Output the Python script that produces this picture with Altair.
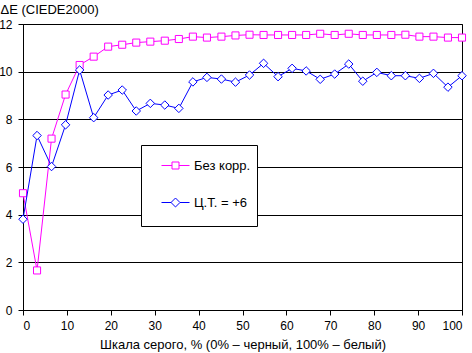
import altair as alt
import pandas as pd

gray_pct = [0, 3.2, 6.5, 9.7, 12.9, 16.1, 19.4, 22.6, 25.8, 29.0, 32.3, 35.5, 38.7, 41.9,
            45.2, 48.4, 51.6, 54.8, 58.1, 61.3, 64.5, 67.7, 71.0, 74.2, 77.4, 80.6, 83.9,
            87.1, 90.3, 93.5, 96.8, 100]
no_corr = [4.90, 1.66, 7.19, 9.04, 10.28, 10.63, 11.05, 11.13, 11.22, 11.26, 11.30, 11.37,
           11.47, 11.43, 11.47, 11.52, 11.55, 11.54, 11.54, 11.54, 11.54, 11.59, 11.54, 11.59,
           11.54, 11.54, 11.54, 11.55, 11.47, 11.47, 11.43, 11.43]
ct_plus6 = [3.81, 7.32, 6.02, 7.77, 10.07, 8.07, 9.02, 9.23, 8.35, 8.67, 8.60, 8.46, 9.57,
            9.76, 9.69, 9.56, 9.86, 10.35, 9.79, 10.14, 10.03, 9.68, 9.90, 10.32, 9.60, 9.97,
            9.83, 9.83, 9.72, 9.93, 9.35, 9.83]
series_names = ["Без корр.", "Ц.Т. = +6"]
series_colors = ["#FF00FF", "#0000FF"]
x_ticks = [0, 10, 20, 30, 40, 50, 60, 70, 80, 90, 100]
y_ticks = [0, 2, 4, 6, 8, 10, 12]

df = pd.concat([
    pd.DataFrame({"x": gray_pct, "y": no_corr, "s": series_names[0]}),
    pd.DataFrame({"x": gray_pct, "y": ct_plus6, "s": series_names[1]}),
])

FONT = "Liberation Sans"

sq_path = "M-1,0L-0.25,0M0.25,0L1,0M-0.25,-0.25L0.25,-0.25L0.25,0.25L-0.25,0.25Z"
dm_path = "M-1,0L-0.32,0M0.32,0L1,0M-0.32,0L0,-0.32L0.32,0L0,0.32Z"

color_scale = alt.Scale(domain=series_names, range=series_colors)
legend = alt.Legend(
    title=" ", titleOrient="bottom", titleFontSize=4, titlePadding=6,
    orient="none", legendX=118, legendY=121,
    padding=6, strokeColor="black", fillColor="white",
    symbolSize=784, symbolStrokeWidth=1, symbolOffset=14, labelOffset=4,
    symbolFillColor="white",
    symbolType=alt.ExprRef(expr=f"datum.index === 0 ? '{sq_path}' : '{dm_path}'"),
    rowPadding=15, labelFont=FONT, labelFontSize=13, labelColor="black",
    labelExpr="datum.label + '  '",
)

x_enc = alt.X("x:Q", scale=alt.Scale(domain=[0, 100], nice=False),
              axis=alt.Axis(values=x_ticks, grid=False, tickSize=5, labelPadding=5,
                            domainColor="black", tickColor="black", labelColor="black",
                            labelFont=FONT, labelFontSize=12,
                            title="Шкала серого, % (0% – черный, 100% – белый)",
                            titleFont=FONT, titleFontSize=13, titleFontWeight="normal",
                            titleColor="black", titleY=38, titleBaseline="alphabetic"))
y_enc = alt.Y("y:Q", scale=alt.Scale(domain=[0, 12], nice=False),
              axis=alt.Axis(values=y_ticks, grid=True, gridColor="black", gridOpacity=1,
                            tickSize=5, labelPadding=6, domainColor="black", tickColor="black",
                            labelColor="black", labelFont=FONT, labelFontSize=12,
                            title="ΔE (CIEDE2000)", titleFont=FONT, titleFontSize=13,
                            titleFontWeight="normal", titleColor="black", titleAngle=0,
                            titleAlign="left", titleBaseline="alphabetic",
                            titleX=-23, titleY=-11))

layers = []
shapes = ["square", "diamond"]
sizes = [50, 72]
for i, name in enumerate(series_names):
    base = alt.Chart(df).transform_filter(alt.datum.s == name)
    line = base.mark_line(strokeWidth=1).encode(
        x=x_enc, y=y_enc,
        color=alt.Color("s:N", scale=color_scale, legend=legend if i == 0 else None))
    pts = base.mark_point(shape=shapes[i], size=sizes[i], filled=False, fill="white",
                          fillOpacity=1, strokeWidth=1, opacity=1).encode(
        x=x_enc, y=y_enc,
        color=alt.Color("s:N", scale=color_scale, legend=None))
    layers += [line, pts]

chart = alt.layer(*layers).properties(
    width=439, height=286,
    autosize=alt.AutoSizeParams(type="none"),
    padding={"left": 23, "top": 24, "right": 10, "bottom": 43},
    background="white",
).configure_view(stroke="black", strokeWidth=1)

chart.save("out.html", embed_options={"renderer": "svg", "actions": False})
